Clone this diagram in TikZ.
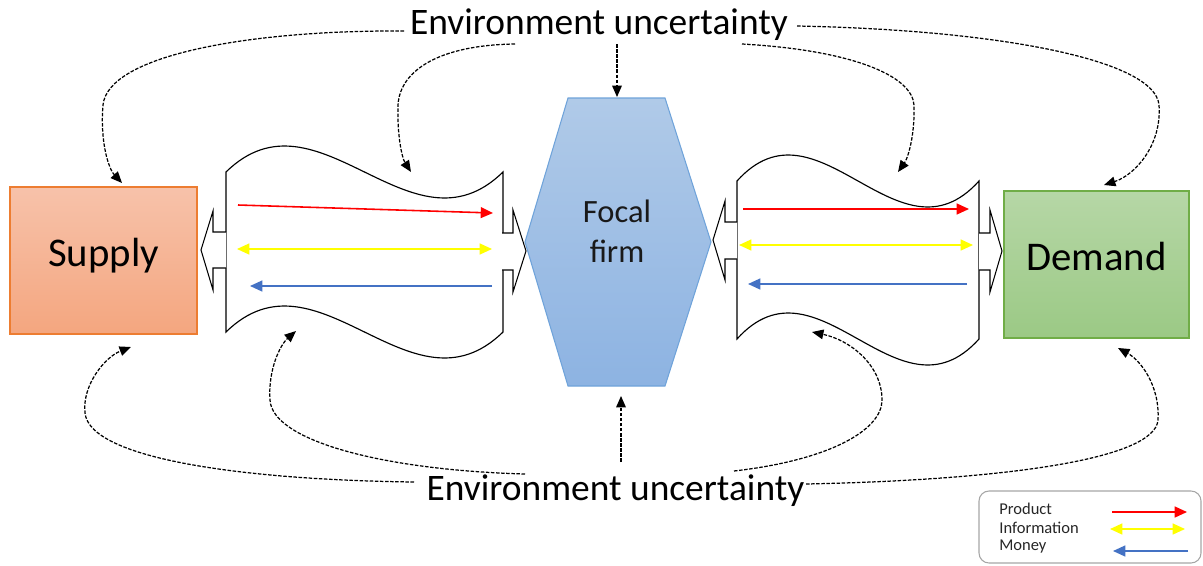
\documentclass[tikz,border=0pt]{standalone}
\usepackage{fontspec}
\setmainfont{Carlito}
\usetikzlibrary{arrows.meta}
\definecolor{supT}{HTML}{F7C2AA}
\definecolor{supB}{HTML}{F4A67F}
\definecolor{supD}{HTML}{ED7D31}
\definecolor{demT}{HTML}{B6D7A6}
\definecolor{demB}{HTML}{9BC985}
\definecolor{demD}{HTML}{70AD47}
\definecolor{focT}{HTML}{B0CAE8}
\definecolor{focB}{HTML}{8DB3E2}
\definecolor{focD}{HTML}{6FA3DA}
\definecolor{flowR}{HTML}{FF0000}
\definecolor{flowY}{HTML}{FFFF00}
\definecolor{flowB}{HTML}{4472C4}
\definecolor{legD}{HTML}{A6A6A6}
\begin{document}
\begin{tikzpicture}[x=0.02cm,y=-0.02cm,
  bigtxt/.style={font=\fontsize{23.2}{27}\selectfont, inner sep=0pt},
  envtxt/.style={font=\fontsize{21.3}{25}\selectfont, inner sep=0pt},
  legtxt/.style={font=\fontsize{9.4}{11}\selectfont, inner sep=0pt, anchor=base west, text=black!85},
  boxnode/.style={minimum width=#1, minimum height=2.94cm, inner sep=0pt, line width=0.7pt},
  wave/.style={draw=black, fill=white, line width=0.65pt},
  blockarr/.style={draw=black, fill=white, line width=0.6pt, line join=miter},
  flow/.style={line width=0.9pt, -{Triangle[length=7pt,width=6.2pt]}},
  flowboth/.style={line width=0.9pt, {Triangle[length=7pt,width=6.2pt]}-{Triangle[length=7pt,width=6.2pt]}},
  envarr/.style={draw=black, line width=0.7pt, dash pattern=on 2pt off 0.9pt, -{Triangle[length=6.5pt,width=5.5pt]}}
]
\useasboundingbox (0,0) rectangle (1203,565);
\fill[white] (0,0) rectangle (1203,565);

% Supply and Demand boxes
\node[boxnode=3.74cm, draw=supD, top color=supT, bottom color=supB] (supply) at (103.5,260.5) {};
\node[bigtxt, anchor=base] (supplyt) at (103.5,266) {Supply};
\node[boxnode=3.70cm, draw=demD, top color=demT, bottom color=demB] (demand) at (1096.5,264.5) {};
\node[bigtxt, anchor=base] (demandt) at (1096.5,270) {Demand};

% Focal firm hexagon
\shadedraw[draw=focD, line width=0.6pt, top color=focT, bottom color=focB]
  (568,98) -- (665,98) -- (711,242) -- (665,386) -- (568,386) -- (525,242) -- cycle;
\node[font=\fontsize{18.5}{22.7}\selectfont, align=center, inner sep=0pt, text=black!90] (focal) at (617,231) {Focal\\firm};

% wavy channel shapes
\draw[wave] (226,172) .. controls (318,82) and (411,262) .. (503,172)
  -- (503,332) .. controls (411,422) and (318,242) .. (226,332) -- cycle;
\draw[wave] (737,181) .. controls (818,91) and (898,271) .. (979,181)
  -- (979,339) .. controls (898,429) and (818,249) .. (737,339) -- cycle;

% block arrows
\draw[blockarr] (226,232) -- (213,232) -- (213,211) -- (201,250) -- (213,290) -- (213,268) -- (226,268);
\draw[blockarr] (502,233) -- (513,233) -- (513,210) -- (526,251) -- (513,292) -- (513,270) -- (502,270);
\draw[blockarr] (737,222) -- (725,222) -- (725,201) -- (713,240) -- (725,280) -- (725,259) -- (737,259);
\draw[blockarr] (979,233) -- (990,233) -- (990,210) -- (1002,251) -- (990,292) -- (990,270) -- (979,270);

% flows in left channel
\coordinate (lr1) at (238,205); \coordinate (lr2) at (493,213);
\coordinate (ly1) at (237,249); \coordinate (ly2) at (492,249);
\coordinate (lb1) at (492,286); \coordinate (lb2) at (250,286);
\draw[flow, flowR] (lr1) -- (lr2);
\draw[flowboth, flowY] (ly1) -- (ly2);
\draw[flow, flowB] (lb1) -- (lb2);
% flows in right channel
\coordinate (rr1) at (743,209); \coordinate (rr2) at (969,209);
\coordinate (ry1) at (739,245); \coordinate (ry2) at (973,245);
\coordinate (rb1) at (967,284); \coordinate (rb2) at (748,284);
\draw[flow, flowR] (rr1) -- (rr2);
\draw[flowboth, flowY] (ry1) -- (ry2);
\draw[flow, flowB] (rb1) -- (rb2);

% environment labels
\node[envtxt, anchor=base] (eut) at (599,34) {Environment uncertainty};
\node[envtxt, anchor=base] (eub) at (615.5,500) {Environment uncertainty};

% dashed influence arrows (top)
\coordinate (c1s) at (404,31);  \coordinate (c1t) at (122,183);
\coordinate (c2s) at (515,44);  \coordinate (c2t) at (411,172);
\coordinate (c3s) at (617,44);  \coordinate (c3t) at (617,97);
\coordinate (c4s) at (742,44);  \coordinate (c4t) at (898,172);
\coordinate (c5s) at (797,26);  \coordinate (c5t) at (1104,185);
\draw[envarr] (c1s) .. controls (250,30) and (108,55) .. (103,105) .. controls (100,140) and (108,168) .. (c1t);
\draw[envarr] (c2s) .. controls (440,45) and (400,70) .. (398,105) .. controls (397,135) and (402,158) .. (c2t);
\draw[envarr] (c3s) -- (c3t);
\draw[envarr] (c4s) .. controls (850,50) and (912,75) .. (914,105) .. controls (915,135) and (908,158) .. (c4t);
\draw[envarr] (c5s) .. controls (1000,30) and (1155,60) .. (1159,105) .. controls (1162,145) and (1135,175) .. (c5t);

% dashed influence arrows (bottom)
\coordinate (c6s) at (414,482);  \coordinate (c6t) at (131,347);
\coordinate (c7s) at (525,474);  \coordinate (c7t) at (296,331);
\coordinate (c8s) at (621,462);  \coordinate (c8t) at (621,396);
\coordinate (c9s) at (734,471);  \coordinate (c9t) at (812,332);
\coordinate (c10s) at (806,484); \coordinate (c10t) at (1118,348);
\draw[envarr] (c6s) .. controls (250,480) and (90,460) .. (85,413) .. controls (82,385) and (105,357) .. (c6t);
\draw[envarr] (c7s) .. controls (380,470) and (272,440) .. (270,400) .. controls (268,370) and (280,345) .. (c7t);
\draw[envarr] (c8s) -- (c8t);
\draw[envarr] (c9s) .. controls (830,460) and (882,430) .. (882,400) .. controls (882,365) and (850,340) .. (c9t);
\draw[envarr] (c10s) .. controls (1000,480) and (1155,460) .. (1158,420) .. controls (1160,385) and (1140,360) .. (c10t);

% legend
\draw[draw=legD, line width=0.6pt, rounded corners=0.2cm] (979,491) rectangle (1201,563);
\node[legtxt] (lp) at (999,514) {Product};
\node[legtxt] (li) at (999,533) {Information};
\node[legtxt] (lm) at (999,550) {Money};
\coordinate (gr1) at (1112,512); \coordinate (gr2) at (1187,512);
\coordinate (gy1) at (1110,529); \coordinate (gy2) at (1185,529);
\coordinate (gb1) at (1188,551); \coordinate (gb2) at (1113,551);
\draw[flow, flowR] (gr1) -- (gr2);
\draw[flowboth, flowY] (gy1) -- (gy2);
\draw[flow, flowB] (gb1) -- (gb2);
\end{tikzpicture}
\end{document}
